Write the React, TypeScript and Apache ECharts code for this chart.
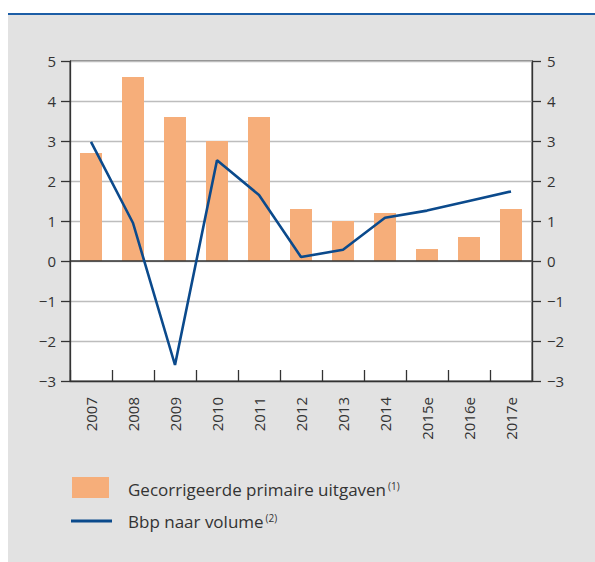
import React, { useEffect, useRef } from "react";
import * as echarts from "echarts";

const categories = ["2007", "2008", "2009", "2010", "2011", "2012", "2013", "2014", "2015e", "2016e", "2017e"];
const primaryExpenditure = [2.7, 4.6, 3.6, 3.0, 3.6, 1.3, 1.0, 1.2, 0.3, 0.6, 1.3];
const gdpVolume = [2.98, 0.95, -2.6, 2.52, 1.65, 0.1, 0.28, 1.08, 1.26, 1.5, 1.74];
const legendBar = "Gecorrigeerde primaire uitgaven";
const legendLine = "Bbp naar volume";

const FONT = "'Open Sans', 'Noto Sans', sans-serif";
const TXT = "#333";
const BAR = "#f6ae7a";
const LINE = "#0b4a8c";

export default function App() {
  const ref = useRef<HTMLDivElement>(null);
  useEffect(() => {
    if (!ref.current) return;
    const chart = echarts.init(ref.current, undefined, { renderer: "svg" });
    const fmt = (v: number) => String(v).replace("-", "\u2212");
    const yAxisBase = (pos: "left" | "right") => ({
      type: "value" as const,
      position: pos,
      min: -3,
      max: 5,
      interval: 1,
      axisLine: { show: true, onZero: false, lineStyle: { color: TXT, width: 1.3 } },
      axisTick: { show: true, inside: false, length: 9, lineStyle: { color: TXT, width: 1.3 } },
      axisLabel: { color: TXT, fontSize: 15, fontFamily: FONT, margin: pos === "left" ? 14 : 15, formatter: fmt },
      splitLine: { show: pos === "left", lineStyle: { color: "#bdbdbd", width: 1.3 } },
    });
    chart.setOption({
      animation: false,
      grid: {
        left: 70, right: 63, top: 61, bottom: 181,
        show: true, backgroundColor: "#fff", borderColor: TXT, borderWidth: 1,
      },
      xAxis: {
        type: "category",
        data: categories,
        boundaryGap: true,
        axisLine: { show: true, onZero: false, lineStyle: { color: TXT, width: 1.3 } },
        axisTick: { show: true, inside: true, length: 11, alignWithLabel: false, lineStyle: { color: TXT, width: 1.3 } },
        axisLabel: { rotate: 90, color: TXT, fontSize: 15, fontFamily: FONT, margin: 16, interval: 0 },
        splitLine: { show: false },
      },
      yAxis: [yAxisBase("left"), yAxisBase("right")],
      series: [
        {
          type: "bar",
          data: primaryExpenditure,
          barWidth: 22,
          itemStyle: { color: BAR },
          markLine: {
            silent: true,
            symbol: "none",
            label: { show: false },
            lineStyle: { color: TXT, type: "solid", width: 1.5 },
            data: [{ yAxis: 0 }],
          },
        },
        {
          type: "line",
          data: gdpVolume,
          showSymbol: false,
          symbol: "none",
          lineStyle: { color: LINE, width: 2.6 },
          z: 5,
        },
      ],
      graphic: [
        { type: "rect", shape: { x: 72, y: 477, width: 37, height: 21 }, style: { fill: BAR } },
        { type: "line", shape: { x1: 71, y1: 521, x2: 112, y2: 521 }, style: { stroke: LINE, lineWidth: 3 } },
        {
          type: "text", x: 128, y: 489,
          style: {
            text: legendBar + "{sup|(1)}",
            fill: TXT, fontSize: 17, fontFamily: FONT, verticalAlign: "middle",
            rich: { sup: { fontSize: 10, fill: TXT, fontFamily: FONT, verticalAlign: "top", padding: [0, 0, 0, 2] } },
          },
        },
        {
          type: "text", x: 128, y: 521,
          style: {
            text: legendLine + "{sup|(2)}",
            fill: TXT, fontSize: 17, fontFamily: FONT, verticalAlign: "middle",
            rich: { sup: { fontSize: 10, fill: TXT, fontFamily: FONT, verticalAlign: "top", padding: [0, 0, 0, 2] } },
          },
        },
      ],
    });
    return () => chart.dispose();
  }, []);
  return (
    <div style={{ position: "fixed", left: 0, top: 0, width: 595, height: 562, background: "#fff", overflow: "hidden" }}>
      <div style={{ position: "absolute", left: 8, top: 13, right: 0, bottom: 0, background: "#e2e2e2", borderTop: "2px solid #1d5ea6" }} />
      <div ref={ref} style={{ position: "absolute", left: 0, top: 0, width: 595, height: 562 }} />
    </div>
  );
}
